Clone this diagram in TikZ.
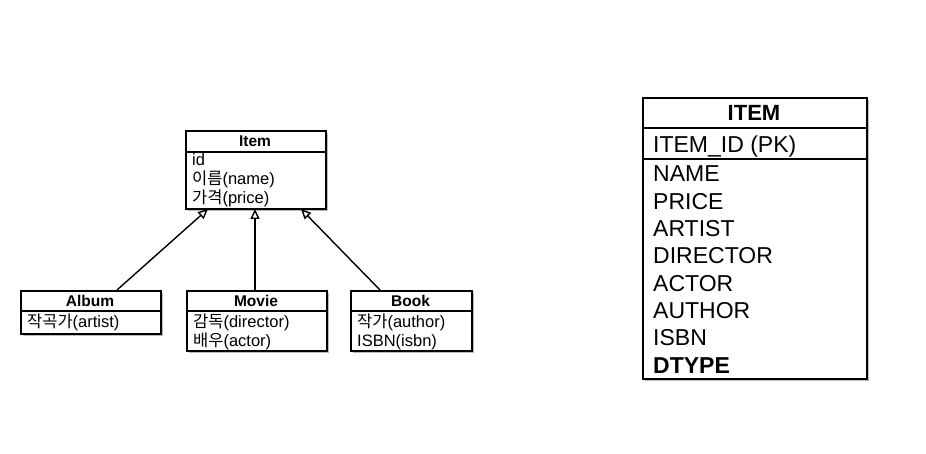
\documentclass[tikz,border=0pt]{standalone}
\usepackage{fontspec}
\setmainfont{Liberation Sans}
\newfontfamily\kr{Noto Sans CJK KR}
\usetikzlibrary{arrows.meta,shadows}
\tikzset{
  box/.style={draw=black, line width=1.7pt, fill=white, inner sep=0pt, anchor=north west,
    drop shadow={shadow xshift=2pt, shadow yshift=-2pt, opacity=0.45, fill=black!60}},
  sep/.style={line width=1.5pt},
  ttl/.style={font=\fontsize{15.5}{17}\selectfont\bfseries, anchor=center, inner sep=0pt},
  attr/.style={font=\fontsize{16.5}{19}\selectfont, anchor=base west, inner sep=0pt},
  tttl/.style={font=\fontsize{22}{24}\selectfont\bfseries, anchor=center, inner sep=0pt},
  tattr/.style={font=\fontsize{23}{27}\selectfont, anchor=base west, inner sep=0pt},
  inh/.style={line width=1.4pt, -{Triangle[open, length=10pt, width=9pt, fill=white]}}
}
\begin{document}
\begin{tikzpicture}[x=1pt,y=-1pt]
\useasboundingbox (0,0) rectangle (926,454);
\fill[white] (0,0) rectangle (926,454);

% Item class
\node[box, minimum width=140pt, minimum height=78pt] (item) at (185,130) {};
\draw[sep] (185,152) -- (325,152);
\node[ttl] (itemt) at (255,141.5) {Item};
\node[attr] (ia1) at (192,166) {id};
\node[attr] (ia2) at (192,185) {{\kr 이름}(name)};
\node[attr] (ia3) at (192,204) {{\kr 가격}(price)};

% Album
\node[box, minimum width=140pt, minimum height=43pt] (album) at (20,290) {};
\draw[sep] (20,311) -- (160,311);
\node[ttl] (albumt) at (90,300.5) {Album};
\node[attr] (aa1) at (27,327) {{\kr 작곡가}(artist)};

% Movie
\node[box, minimum width=140pt, minimum height=60pt] (movie) at (186,290) {};
\draw[sep] (186,311) -- (326,311);
\node[ttl] (moviet) at (256,300.5) {Movie};
\node[attr] (ma1) at (193,327) {{\kr 감독}(director)};
\node[attr] (ma2) at (193,346) {{\kr 배우}(actor)};

% Book
\node[box, minimum width=121pt, minimum height=60pt] (book) at (350,290) {};
\draw[sep] (350,311) -- (471,311);
\node[ttl] (bookt) at (410.5,300.5) {Book};
\node[attr] (ba1) at (357,327) {{\kr 작가}(author)};
\node[attr] (ba2) at (357,346) {ISBN(isbn)};

% inheritance arrows
\coordinate (albumtop) at (117,290);
\coordinate (booktop) at (380,290);
\coordinate (itemA) at (208,209);
\coordinate (itemM) at (255,209);
\coordinate (itemB) at (301,209);
\draw[inh] (albumtop) -- (itemA);
\draw[inh] (movie.north -| itemM) -- (itemM);
\draw[inh] (booktop) -- (itemB);

% ITEM table
\node[box, minimum width=224pt, minimum height=281pt] (tbl) at (642,97) {};
\draw[sep] (642,128) -- (866,128);
\draw[line width=2pt] (642,159.5) -- (866,159.5);
\node[tttl] (tblt) at (754,112.5) {ITEM};
\node[tattr] (pk) at (653,152.5) {ITEM\_ID (PK)};
\node[tattr] (c1) at (653,182) {NAME};
\node[tattr] (c2) at (653,209.3) {PRICE};
\node[tattr] (c3) at (653,236.6) {ARTIST};
\node[tattr] (c4) at (653,263.9) {DIRECTOR};
\node[tattr] (c5) at (653,291.2) {ACTOR};
\node[tattr] (c6) at (653,318.5) {AUTHOR};
\node[tattr] (c7) at (653,345.8) {ISBN};
\node[tattr, font=\fontsize{23}{27}\selectfont\bfseries] (c8) at (653,373.1) {DTYPE};
\end{tikzpicture}
\end{document}
